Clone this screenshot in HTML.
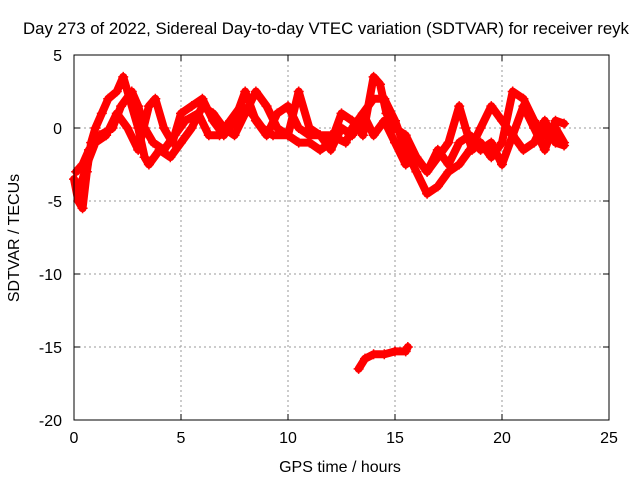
<!DOCTYPE html>
<html><head><meta charset="utf-8"><style>
body{margin:0;background:#fff}
svg{display:block;font-family:"Liberation Sans",sans-serif;font-size:16px}
</style></head><body>
<svg id="chart" width="640" height="480">
<rect width="640" height="480" fill="#fff"/>
<text x="326" y="34" text-anchor="middle" style="font-size:16.8px">Day 273 of 2022, Sidereal Day-to-day VTEC variation (SDTVAR) for receiver reyk</text>
<text x="340" y="472" text-anchor="middle">GPS time / hours</text>
<text transform="translate(19,238) rotate(-90)" text-anchor="middle">SDTVAR / TECUs</text>
<g id="grid"></g><g id="ticks"></g><g id="marks"></g>
<rect x="74" y="55" width="535" height="365" fill="none" stroke="#000" stroke-width="1"/>
</svg>
<script>
const xTicks=[0,5,10,15,20,25];
const yTicks=[5,0,-5,-10,-15,-20];
const trackA_t=[0,0.2,0.4,0.6,0.8,1,1.3,1.6,2,2.3,2.6,3,3.3,3.5,4,4.5,5,5.5,6,6.5,7,7.5,8,8.5,9,9.5,10,10.5,11,11.5,12,12.5,13,13.5,14,14.3,14.6,15,15.5,16,16.5,17,17.5,18,18.3,18.6,19,19.5,20,20.5,21,21.5,22,22.5,22.9];
const trackA_v=[-3.5,-5,-5.5,-3,-1,0,1,2,2.5,3.5,2,0,-2,-2.5,-1.5,-2,-1,0,1.5,1,0,-0.5,1,2.5,1.5,0,-0.5,-1,-1,-1.5,-1,1,0.5,-0.5,3.5,3,1,0,-0.5,-2,-3,-2,-1,1.5,0,-1.5,-1,-2,-1,2.5,2,0.5,-0.5,0,-1];
const trackB_t=[0.3,0.6,1,1.5,2,2.5,3,3.5,3.8,4.2,4.6,5,5.5,6,6.5,7,7.5,8,8.5,9,9.5,10,10.5,11,11.5,12,12.5,13,13.5,14,14.5,15,15.5,16,16.5,17,17.5,18,18.5,19,19.5,20,20.5,21,21.5,22,22.5,22.9];
const trackB_v=[-4,-2.5,-1,-0.5,1,0,-1.5,1.5,2,0,-1,1,1.5,2,0.5,-0.5,0.5,2.5,0.5,-0.5,1,1.5,0,-0.5,-0.5,-1.5,0,-0.5,1,2,2,0.5,-1.5,-3,-4.5,-4,-3,-2.5,-1.5,0,1.5,0.5,-0.5,-1.5,-1,0.5,-1,-1.2];
const trackC_t=[0.1,0.4,0.7,1.2,1.8,2.2,2.7,3,3.3,3.7,4.2,4.7,5.2,5.8,6.3,6.8,7.3,7.8,8.3,8.8,9.3,10,10.5,11,11.5,12,12.7,13,13.5,14,14.5,15,15.5,16,16.5,17,17.5,18,18.5,19,19.5,20,20.5,21,21.5,22,22.5,22.9];
const trackC_v=[-3,-2.5,-1.5,-0.5,0,1.5,2.5,1.5,0,-1,-1.5,-0.5,0.5,1,-0.5,-0.5,0.5,1.5,1,0,-0.5,-0.5,2.5,0,-0.5,-0.5,-1,0,1,-0.5,0.5,-1,-2.5,-2,-3,-1.5,-2.5,-1,-0.5,-1.5,-1,-2.5,-0.5,1.5,0,-1.5,0.5,0.3];
const trackD_t=[13.3,13.6,14,14.5,15,15.5,15.6];
const trackD_v=[-16.5,-15.8,-15.5,-15.5,-15.3,-15.3,-15];
const NS='http://www.w3.org/2000/svg';
const xs=t=>74+(t-0)/25*535;
const ys=v=>55+(5-v)/25*365;
function mk(tag,attrs,parent){const e=document.createElementNS(NS,tag);for(const k in attrs)e.setAttribute(k,attrs[k]);parent.appendChild(e);return e;}
const grid=document.getElementById('grid'),ticks=document.getElementById('ticks'),marks=document.getElementById('marks');
xTicks.forEach(t=>{const x=xs(t);
 if(t>0&&t<25){const g=mk('line',{x1:x,x2:x,y1:55,y2:420,stroke:'#999','stroke-dasharray':'2,3'},grid);
 
 }
 mk('line',{x1:x,x2:x,y1:420,y2:414,stroke:'#000'},ticks);mk('line',{x1:x,x2:x,y1:55,y2:61,stroke:'#000'},ticks);
 const l=mk('text',{x:x,y:443,'text-anchor':'middle'},ticks);l.textContent=t;
 
 });
yTicks.forEach(v=>{const y=ys(v);
 if(v<5&&v>-20){const g=mk('line',{x1:74,x2:609,y1:y,y2:y,stroke:'#999','stroke-dasharray':'2,3'},grid);
 
 }
 mk('line',{x1:74,x2:80,y1:y,y2:y,stroke:'#000'},ticks);mk('line',{x1:609,x2:603,y1:y,y2:y,stroke:'#000'},ticks);
 const l=mk('text',{x:62,y:y+6,'text-anchor':'end'},ticks);l.textContent=v;
 
 });
[[trackA_t,trackA_v],[trackB_t,trackB_v],[trackC_t,trackC_v],[trackD_t,trackD_v]].forEach(([T,V],i)=>{
 const pts=T.map((t,j)=>xs(t)+','+ys(V[j])).join(' ');
 const p=mk('polyline',{points:pts,fill:'none',stroke:'#f00','stroke-width':8,'stroke-linejoin':'round','stroke-linecap':'round'},marks);
 
 
 T.forEach((t,j)=>{const x=xs(t),y=ys(V[j]);
  const m=mk('path',{d:`M${x-5},${y}H${x+5}M${x},${y-5}V${y+5}`,stroke:'#f00','stroke-width':1.5},marks);
  
  });
});
</script>
</body></html>
